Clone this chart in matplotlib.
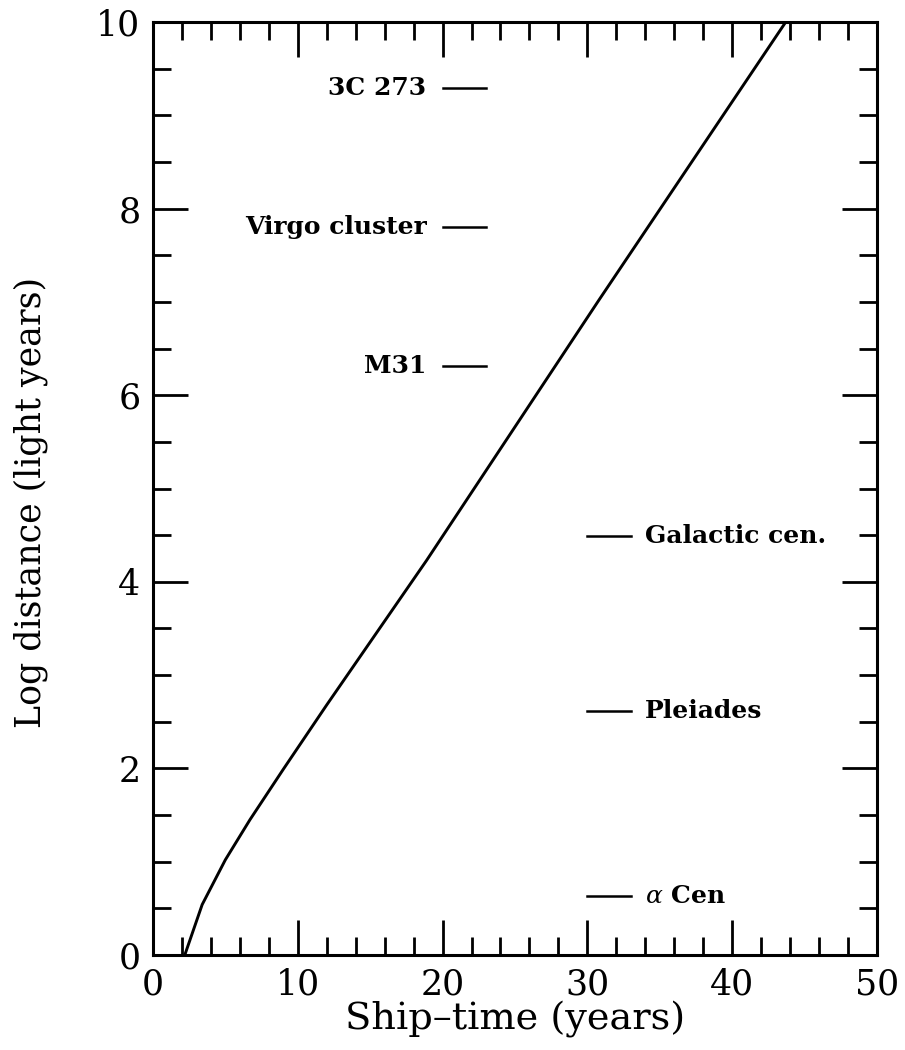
import matplotlib
matplotlib.use("Agg")
import matplotlib.pyplot as plt
from matplotlib.ticker import MultipleLocator

plt.rcParams['font.family'] = ['DejaVu Serif']
plt.rcParams['mathtext.fontset'] = 'dejavuserif'

# ship-time (years) vs log distance (light years)
ship_time = [2.2, 3.4, 5.0, 6.7, 9.0, 12.0, 18.9, 30.8, 43.7]
log_dist = [0.0, 0.54, 1.02, 1.45, 1.99, 2.68, 4.23, 7.02, 10.0]

# reference objects: name, log distance, side of the plot
obj_names = ["3C 273", "Virgo cluster", "M31", "Galactic cen.", "Pleiades", r"$\alpha$ Cen"]
obj_logd = [9.29, 7.80, 6.31, 4.49, 2.62, 0.63]
obj_side = ["left", "left", "left", "right", "right", "right"]

fig = plt.figure(figsize=(9.05, 10.5), dpi=100)
ax = fig.add_axes([0.169, 0.0905, 0.800, 0.8885])

ax.plot(ship_time, log_dist, color='black', lw=2.1)

for name, ld, side in zip(obj_names, obj_logd, obj_side):
    if side == "left":
        ax.plot([20, 23], [ld, ld], color='black', lw=1.8)
        ax.text(18.9, ld, name, ha='right', va='center', fontsize=18,
                fontweight='bold')
    else:
        ax.plot([30, 33], [ld, ld], color='black', lw=1.8)
        ax.text(34.0, ld, name, ha='left', va='center', fontsize=18,
                fontweight='bold')

ax.set_xlim(0, 50)
ax.set_ylim(0, 10)
ax.xaxis.set_major_locator(MultipleLocator(10))
ax.xaxis.set_minor_locator(MultipleLocator(2))
ax.yaxis.set_major_locator(MultipleLocator(2))
ax.yaxis.set_minor_locator(MultipleLocator(0.5))
ax.tick_params(which='both', direction='in', top=True, right=True,
               color='black', width=2.0)
ax.tick_params(which='major', length=25, labelsize=25, pad=9)
ax.tick_params(which='minor', length=13)
for sp in ax.spines.values():
    sp.set_linewidth(2.2)

ax.set_xlabel("Ship\u2013time (years)", fontsize=27.5, labelpad=0)
ax.set_ylabel("Log distance (light years)", fontsize=25, labelpad=38)
ax.yaxis.set_label_coords(-0.145, 0.485)

fig.savefig("out.png", dpi=100)
